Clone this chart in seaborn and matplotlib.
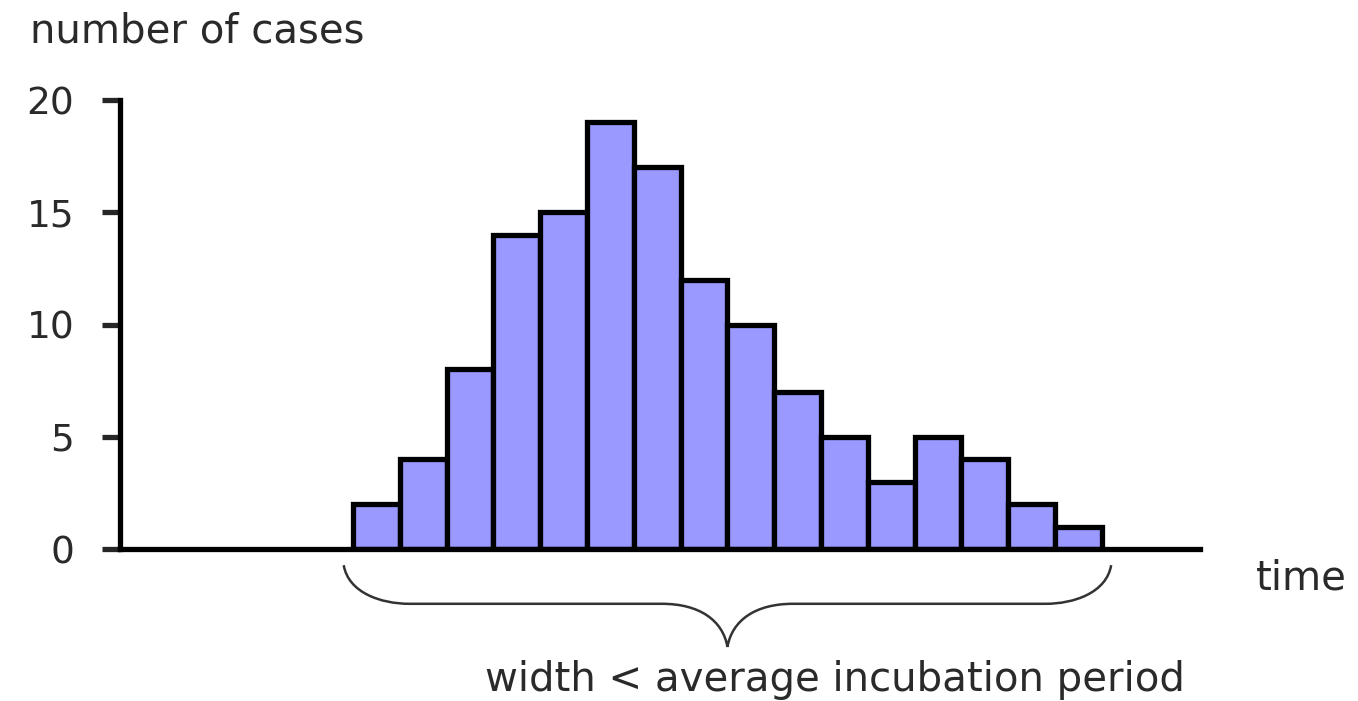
import matplotlib
matplotlib.use("Agg")
import matplotlib.pyplot as plt
import matplotlib.transforms as mtransforms
from matplotlib.path import Path
from matplotlib.patches import PathPatch
import seaborn as sns

# epidemic curve: cases per time unit
days = list(range(1, 17))
cases = [2, 4, 8, 14, 15, 19, 17, 12, 10, 7, 5, 3, 5, 4, 2, 1]
yticks = [0, 5, 10, 15, 20]

sns.set_style("white")
plt.rcParams['font.family'] = ['DejaVu Sans']

fig = plt.figure(figsize=(13.58, 7.01), dpi=100)
ax = fig.add_axes([0.0884, 0.2168, 0.7953, 0.6405])

sns.histplot(x=days, weights=cases, discrete=True, ax=ax,
             color="#9999ff", edgecolor="black", linewidth=3.8, alpha=1)

ax.set_xlim(-4.48, 18.6)
ax.set_ylim(0, 20)
ax.set_yticks(yticks)
ax.set_xticks([])
ax.set_xlabel("")
ax.set_ylabel("")
sns.despine(ax=ax)
for s in ["left", "bottom"]:
    ax.spines[s].set_linewidth(3.8)
    ax.spines[s].set_color("black")
ax.tick_params(axis="y", length=13, width=3.8, direction="out", left=True,
               labelsize=27, pad=20, labelcolor="#2a2a2a")

# curly brace under the bars (x in data, y in axes fraction)
x0, x1 = days[0] - 0.5, days[-1] + 0.5
mid = (x0 + x1) / 2
tip, line, point = -0.036, -0.122, -0.218
verts = [
    (x0 - 0.2, tip), (x0 - 0.1, line * 0.8), (x0 + 0.6, line), (x0 + 1.2, line),
    (mid - 1.4, line),
    (mid - 0.6, line), (mid - 0.1, line * 1.3), (mid, point),
    (mid + 0.1, line * 1.3), (mid + 0.6, line), (mid + 1.4, line),
    (x1 - 1.2, line),
    (x1 - 0.6, line), (x1 + 0.1, line * 0.8), (x1 + 0.2, tip),
]
codes = [Path.MOVETO, Path.CURVE4, Path.CURVE4, Path.CURVE4,
         Path.LINETO,
         Path.CURVE4, Path.CURVE4, Path.CURVE4,
         Path.CURVE4, Path.CURVE4, Path.CURVE4,
         Path.LINETO,
         Path.CURVE4, Path.CURVE4, Path.CURVE4]
trans = mtransforms.blended_transform_factory(ax.transData, ax.transAxes)
ax.add_patch(PathPatch(Path(verts, codes), transform=trans, fill=False,
                       edgecolor="#333333", linewidth=1.8, clip_on=False))

fig.text(0.022, 0.955, "number of cases", fontsize=29, color="#2a2a2a",
         ha="left", va="center")
ax.text(1.052, -0.065, "time", transform=ax.transAxes, fontsize=29,
        color="#2a2a2a", ha="left", va="center")
fig.text(0.615, 0.030, "width < average incubation period", fontsize=29,
         color="#2a2a2a", ha="center", va="center")

fig.savefig("out.png", dpi=100)
